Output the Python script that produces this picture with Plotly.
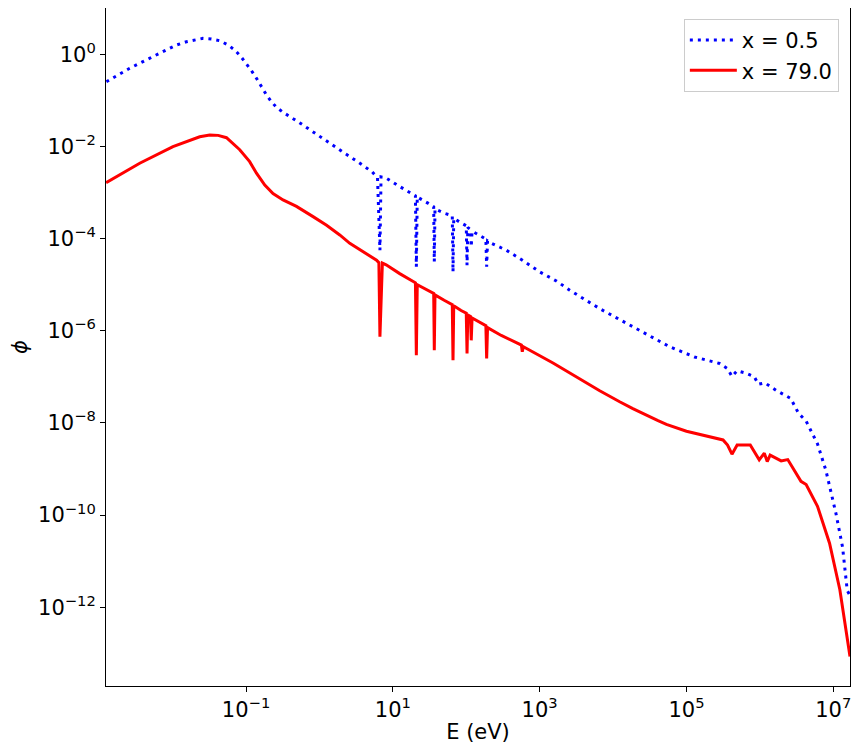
import plotly.graph_objects as go

# Flux spectra (E in eV, phi arbitrary units).
e_blue = [
    1.25e-3, 2.6e-3, 5.35e-3, 1.125e-2, 1.54e-2, 2.11e-2, 2.59e-2, 3.37e-2,
    4.39e-2, 5.69e-2, 7.01e-2, 8.39e-2, 0.101, 0.1186, 0.1387, 0.162, 0.190,
    0.222, 0.259, 0.319, 0.394, 0.527, 0.830, 1.31, 2.08, 3.30, 5.21, 6.18,
    6.67, 6.9, 8.2, 12.4, 16.0, 20.3, 20.9, 21.5, 30.0, 36.0, 36.7, 37.5,
    50.0, 64.5, 66.0, 67.5, 85.0, 100.0, 102.5, 105.0, 114.0, 116.9, 120.0,
    150.0, 185.0, 189.6, 195.0, 220.0, 352.0, 582.0, 1.0e3, 1.69e3, 2.57e3,
    6.61e3, 1.7e4, 3.72e4, 5.9e4, 1.29e5, 2.82e5, 3.63e5, 4.17e5, 4.9e5,
    6.46e5, 8.4e5, 9.55e5, 1.17e6, 1.66e6, 2.63e6, 3.39e6, 4.24e6, 6.1e6,
    7.94e6, 9.77e6, 1.09e7, 1.34e7, 1.55e7, 1.69e7,
]
phi_blue = [
    0.254, 0.497, 0.887, 1.59, 1.875, 2.12, 2.22, 2.15,
    1.97, 1.59, 1.24, 0.918, 0.638, 0.441, 0.301, 0.198, 0.131,
    0.0933, 0.0708, 0.0551, 0.0450, 0.0333, 0.0204, 0.0123, 7.6e-3, 4.68e-3, 2.82e-3, 2.09e-3,
    5.6e-5, 2.19e-3, 2.04e-3, 1.35e-3, 1.05e-3, 8.5e-4, 2.45e-5, 8.0e-4, 5.9e-4, 4.9e-4, 3.16e-5, 4.4e-4,
    3.55e-4, 3.16e-4, 1.9e-5, 2.75e-4, 2.19e-4, 1.9e-4, 2.63e-5, 1.74e-4, 1.58e-4, 6.6e-5, 1.45e-4,
    1.17e-4, 9.8e-5, 2.45e-5, 8.9e-5, 7.9e-5, 5.6e-5, 3.4e-5, 1.9e-5, 1.2e-5, 7.6e-6,
    3.0e-6, 1.32e-6, 6.8e-7, 4.5e-7, 2.7e-7, 1.95e-7, 1.5e-7, 1.02e-7, 1.35e-7,
    1.2e-7, 1.0e-7, 6.9e-8, 7.4e-8, 5.1e-8, 3.4e-8, 1.58e-8, 1.12e-8, 3.5e-9,
    9.3e-10, 2.45e-10, 1.07e-10, 2.0e-11, 2.3e-12, 1.8e-12,
]

e_red = [
    1.24e-3, 3.56e-3, 1.01e-2, 1.71e-2, 2.34e-2, 3.2e-2, 4.17e-2, 5.41e-2,
    6.0e-2, 8.2e-2, 0.112, 0.1387, 0.18, 0.233, 0.319, 0.486, 0.818, 1.25,
    1.89, 2.59, 6.0, 6.45, 6.67, 7.2, 8.1, 12.4,
    20.3, 20.9, 21.5, 30.0, 36.0, 36.7, 37.5, 50.0, 64.5, 66.0, 67.5, 85.0,
    100.0, 102.5, 105.0, 114.0, 116.9, 120.0, 150.0, 185.0, 189.6, 195.0,
    300.0, 564.0, 580.0, 600.0, 1.52e3, 4.33e3, 6.58e3, 1.23e4, 1.86e4,
    4.1e4, 5.33e4, 1.0e5, 2.07e5, 3.15e5, 3.63e5, 4.17e5, 4.9e5, 7.4e5, 9.8e5,
    1.15e6, 1.26e6, 1.38e6, 1.95e6, 2.4e6, 3.63e6, 4.27e6, 6.1e6, 8.9e6,
    1.23e7, 1.69e7,
]
phi_red = [
    1.64e-3, 4.32e-3, 9.9e-3, 1.38e-2, 1.62e-2, 1.78e-2, 1.74e-2, 1.55e-2,
    1.32e-2, 8.5e-3, 4.68e-3, 2.63e-3, 1.45e-3, 9.5e-4, 6.9e-4, 5.0e-4, 3.0e-4, 1.95e-4,
    1.2e-4, 7.9e-5, 3.4e-5, 3.0e-5, 7.4e-7, 2.95e-5, 2.7e-5, 1.74e-5,
    1.1e-5, 2.95e-7, 1.0e-5, 7.6e-6, 6.5e-6, 3.8e-7, 6.0e-6, 4.6e-6, 3.7e-6, 2.3e-7, 3.5e-6, 2.75e-6,
    2.4e-6, 3.2e-7, 2.2e-6, 2.04e-6, 6.2e-7, 1.9e-6, 1.55e-6, 1.29e-6, 2.5e-7, 1.17e-6,
    7.9e-7, 4.9e-7, 3.5e-7, 4.5e-7, 2.0e-7, 7.4e-8, 5.0e-8, 2.88e-8, 2.04e-8,
    1.12e-8, 9.3e-9, 6.6e-9, 4.9e-9, 4.27e-9, 3.3e-9, 2.1e-9, 3.3e-9, 3.3e-9, 1.58e-9,
    2.2e-9, 1.45e-9, 2.0e-9, 1.5e-9, 1.6e-9, 5.4e-10, 4.6e-10, 1.55e-10, 2.45e-11,
    2.4e-12, 8.5e-14,
]

x_ticks = [1e-1, 1e1, 1e3, 1e5, 1e7]
x_ticktext = ["10<sup>−1</sup>", "10<sup>1</sup>", "10<sup>3</sup>", "10<sup>5</sup>", "10<sup>7</sup>"]
y_ticks = [1e0, 1e-2, 1e-4, 1e-6, 1e-8, 1e-10, 1e-12]
y_ticktext = ["10<sup>0</sup>", "10<sup>−2</sup>", "10<sup>−4</sup>", "10<sup>−6</sup>",
              "10<sup>−8</sup>", "10<sup>−10</sup>", "10<sup>−12</sup>"]

fig = go.Figure()
fig.add_trace(go.Scatter(x=e_blue, y=phi_blue, mode="lines", name="x = 0.5",
                         line=dict(color="blue", width=3, dash="3px,5px")))
fig.add_trace(go.Scatter(x=e_red, y=phi_red, mode="lines", name="x = 79.0",
                         line=dict(color="red", width=3)))

axis_style = dict(showline=True, linecolor="black", linewidth=1, mirror=True,
                  ticks="outside", ticklen=5, tickcolor="black", showgrid=False,
                  zeroline=False, automargin=False, tickfont=dict(size=21, color="black"))
fig.update_xaxes(type="log", range=[-2.908, 7.228], tickvals=x_ticks, ticktext=x_ticktext,
                 title=dict(text="E (eV)", font=dict(size=21, color="black"), standoff=3),
                 **axis_style)
fig.update_yaxes(type="log", range=[-13.71, 1.005], tickvals=y_ticks, ticktext=y_ticktext,
                 title=dict(text="<i>ϕ</i>", font=dict(size=21, color="black"), standoff=10),
                 **axis_style)

# the page body adds an 8px margin, so the figure is sized to fit the window
fig.update_layout(
    width=852, height=743,
    margin=dict(l=98, r=10, t=0, b=65),
    paper_bgcolor="white", plot_bgcolor="white",
    font=dict(family="DejaVu Sans", color="black"),
    showlegend=True,
    legend=dict(x=0.985, y=0.984, xanchor="right", yanchor="top", itemwidth=47,
                bordercolor="#cccccc", borderwidth=1, bgcolor="rgba(255,255,255,0.8)",
                font=dict(size=21)),
)

fig.write_html("out.html")
